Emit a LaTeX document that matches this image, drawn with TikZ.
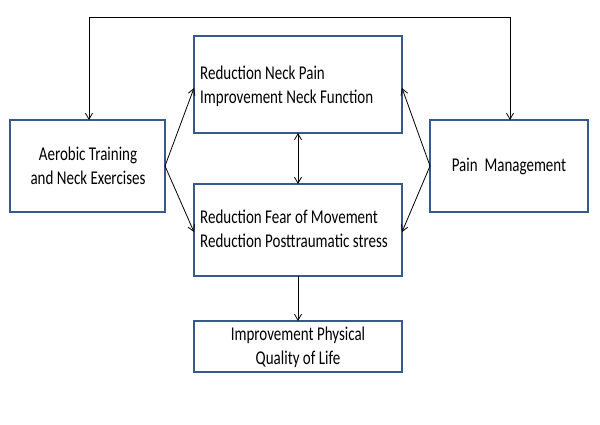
\documentclass[tikz,border=0pt]{standalone}
\usepackage{fontspec}
\setmainfont{Carlito}
\usetikzlibrary{arrows.meta}
\newcommand\tallL[1]{\scalebox{1}[1.3]{\begin{tabular}{@{}l@{}}#1\end{tabular}}}
\newcommand\tallC[1]{\scalebox{1}[1.3]{\begin{tabular}{@{}c@{}}#1\end{tabular}}}
\begin{document}
\begin{tikzpicture}[x=1pt,y=-1pt,
  box/.style={draw=boxblue, line width=1.3pt},
  txt/.style={font=\fontsize{15}{18.5}\selectfont, inner sep=0pt},
  arr/.style={-{Straight Barb[length=6pt,width=7pt]}, line width=0.8pt},
  darr/.style={{Straight Barb[length=6pt,width=7pt]}-{Straight Barb[length=6pt,width=7pt]}, line width=0.8pt}]
\definecolor{boxblue}{RGB}{55,90,140}
\useasboundingbox (0,0) rectangle (600,424);
\draw[box] (194,36) rectangle (402,133);
\node[txt, anchor=west] (topT) at (200,87) {\tallL{Reduction Neck Pain\\Improvement Neck Function}};
\draw[box] (194,184) rectangle (402,276);
\node[txt, anchor=west] (midT) at (200,231) {\tallL{Reduction Fear of Movement\\Reduction Posttraumatic stress}};
\draw[box] (10,120) rectangle (165,212);
\node[txt] (leftT) at (88,168) {\tallC{Aerobic Training\\and Neck Exercises}};
\draw[box] (430,120) rectangle (588,212);
\node[txt] (rightT) at (509,167) {\tallC{Pain\ \ Management}};
\draw[box] (194,321) rectangle (402,372);
\node[txt] (botT) at (298,348) {\tallC{Improvement Physical\\Quality of Life}};
\coordinate (L) at (165,166);
\coordinate (R) at (430,166);
\coordinate (TL) at (194,88);
\coordinate (TR) at (402,88);
\coordinate (ML) at (194,232);
\coordinate (MR) at (402,232);
\coordinate (Tb) at (298,133);
\coordinate (Mt) at (298,184);
\coordinate (Mb) at (298,276);
\coordinate (Bt) at (298,321);
\coordinate (Ltop) at (89,120);
\coordinate (Rtop) at (510,120);
\coordinate (C1) at (89,17);
\coordinate (C2) at (510,17);
\draw[arr] (L) -- (TL);
\draw[arr] (L) -- (ML);
\draw[arr] (R) -- (TR);
\draw[arr] (R) -- (MR);
\draw[darr] (Tb) -- (Mt);
\draw[arr] (Mb) -- (Bt);
\draw[arr] (C1) -- (Ltop);
\draw[arr] (C2) -- (Rtop);
\draw[line width=0.8pt] (C1) -- (C2);
\end{tikzpicture}
\end{document}
